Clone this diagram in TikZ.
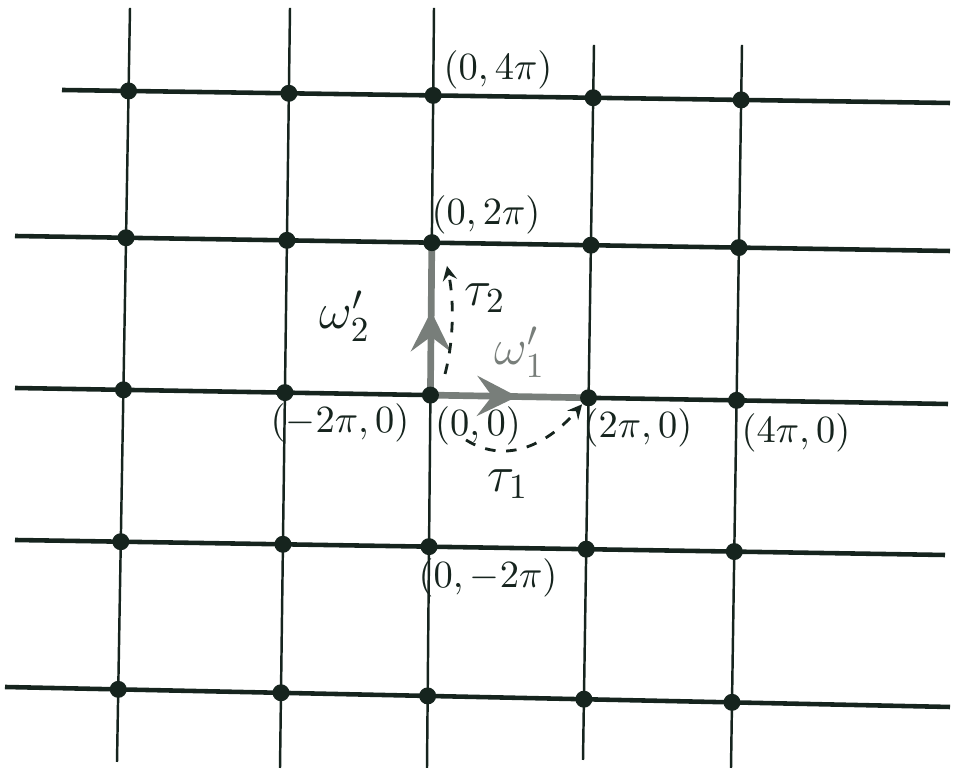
\documentclass[tikz,border=0pt]{standalone}
\usepackage{amsmath}
\usepackage{tikz}
\usetikzlibrary{arrows, decorations.markings}
\usetikzlibrary{positioning}
\definecolor{ink}{RGB}{22,36,30}
\definecolor{pencil}{RGB}{120,126,122}
\tikzset{
    latt/.style = {
        circle,
        fill=ink,
        inner sep=0pt,
        minimum size=1.7mm,
    },
    hline/.style = {
        line width=1.3pt,
        draw=ink,
    },
    vline/.style = {
        line width=0.7pt,
        draw=ink,
    },
    lbl/.style = {
        text=ink,
        font=\fontsize{11}{13}\selectfont,
    },
    period/.style = {
        line width=1.9pt,
        draw=pencil,
        postaction={decorate},
        decoration={markings,
            mark=at position 0.55 with {\arrow[pencil, scale=1.7]{stealth}}},
    },
}
\tikzstyle{dasharrow} = [ink, thick, dashed, ->, >=stealth]

\begin{document}
\begin{tikzpicture}[x=0.1mm, y=-0.1mm]
        \useasboundingbox (0,0) rectangle (954,771);

        % ends of the lines
        \coordinate(aL) at (62,90);   \coordinate(aR) at (950,103);
        \coordinate(bL) at (15,236);  \coordinate(bR) at (950,251);
        \coordinate(cL) at (15,388);  \coordinate(cR) at (948,404);
        \coordinate(dL) at (15,540);  \coordinate(dR) at (945,555);
        \coordinate(eL) at (5,687);   \coordinate(eR) at (950,707);
        \coordinate(t1) at (130,8);   \coordinate(u1) at (117,762);
        \coordinate(t2) at (290,8);   \coordinate(u2) at (280,768);
        \coordinate(t3) at (434,8);   \coordinate(u3) at (427,768);
        \coordinate(t4) at (594,45);  \coordinate(u4) at (583,760);
        \coordinate(t5) at (742,45);  \coordinate(u5) at (731,768);

        \draw [hline] (aL) -- (aR);
        \draw [hline] (bL) -- (bR);
        \draw [hline] (cL) -- (cR);
        \draw [hline] (dL) -- (dR);
        \draw [hline] (eL) -- (eR);
        \draw [vline] (t1) -- (u1);
        \draw [vline] (t2) -- (u2);
        \draw [vline] (t3) -- (u3);
        \draw [vline] (t4) -- (u4);
        \draw [vline] (t5) -- (u5);

        % periods
        \draw [period] (intersection of cL--cR and t3--u3) -- (intersection of bL--bR and t3--u3);
        \draw [period] (intersection of cL--cR and t3--u3) -- (intersection of cL--cR and t4--u4);

        % lattice points
        \node(a1)[latt] at (intersection of aL--aR and t1--u1) {};
        \node(a2)[latt] at (intersection of aL--aR and t2--u2) {};
        \node(a3)[latt] at (intersection of aL--aR and t3--u3) {};
        \node(a4)[latt] at (intersection of aL--aR and t4--u4) {};
        \node(a5)[latt] at (intersection of aL--aR and t5--u5) {};
        \node(b1)[latt] at (intersection of bL--bR and t1--u1) {};
        \node(b2)[latt] at (intersection of bL--bR and t2--u2) {};
        \node(b3)[latt] at (intersection of bL--bR and t3--u3) {};
        \node(b4)[latt] at (intersection of bL--bR and t4--u4) {};
        \node(b5)[latt] at (intersection of bL--bR and t5--u5) {};
        \node(c1)[latt] at (intersection of cL--cR and t1--u1) {};
        \node(c2)[latt] at (intersection of cL--cR and t2--u2) {};
        \node(c3)[latt] at (intersection of cL--cR and t3--u3) {};
        \node(c4)[latt] at (intersection of cL--cR and t4--u4) {};
        \node(c5)[latt] at (intersection of cL--cR and t5--u5) {};
        \node(d1)[latt] at (intersection of dL--dR and t1--u1) {};
        \node(d2)[latt] at (intersection of dL--dR and t2--u2) {};
        \node(d3)[latt] at (intersection of dL--dR and t3--u3) {};
        \node(d4)[latt] at (intersection of dL--dR and t4--u4) {};
        \node(d5)[latt] at (intersection of dL--dR and t5--u5) {};
        \node(e1)[latt] at (intersection of eL--eR and t1--u1) {};
        \node(e2)[latt] at (intersection of eL--eR and t2--u2) {};
        \node(e3)[latt] at (intersection of eL--eR and t3--u3) {};
        \node(e4)[latt] at (intersection of eL--eR and t4--u4) {};
        \node(e5)[latt] at (intersection of eL--eR and t5--u5) {};

        % labels
        \node(l04)[lbl] at (498,70) {$(0,4\pi)$};
        \node(l02)[lbl] at (486,215) {$(0,2\pi)$};
        \node(lm20)[lbl] at (340,423) {$(-2\pi,0)$};
        \node(l00)[lbl] at (478,426) {$(0,0)$};
        \node(l20)[lbl] at (638,428) {$(2\pi,0)$};
        \node(l40)[lbl] at (796,433) {$(4\pi,0)$};
        \node(l0m2)[lbl] at (488,578) {$(0,-2\pi)$};
        \node(om2)[lbl, font=\Large] at (345,316) {$\omega'_2$};
        \node(om1)[lbl, text=pencil, font=\Large] at (520,352) {$\omega'_1$};
        \node(tau2)[lbl, font=\Large] at (485,298) {$\tau_2$};
        \node(tau1)[lbl, font=\Large] at (508,484) {$\tau_1$};

        % shifts
        \coordinate(s2) at (445,374);
        \coordinate(s1) at (466,440);
        \draw [dasharrow] (s2) .. controls (454,340) and (454,300) .. (447,266);
        \draw [dasharrow] (s1) .. controls (508,466) and (550,442) .. (c4.south west);

    \end{tikzpicture}
\end{document}
